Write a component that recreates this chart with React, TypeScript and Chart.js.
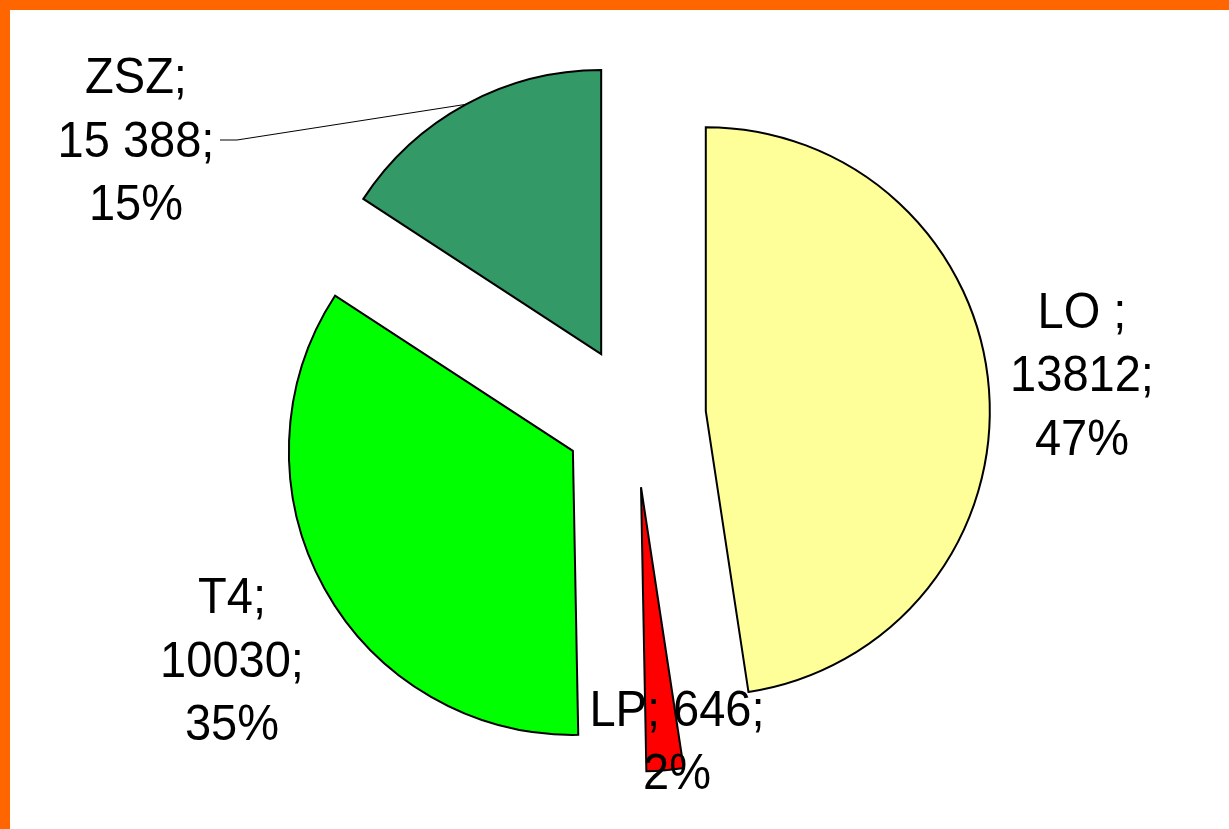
import React, { useEffect, useRef } from 'react';
import { Chart, ArcElement, registerables } from 'chart.js';

Chart.register(...registerables);

// ---- data ----
const categories = ['LO ', 'LP', 'T4', 'ZSZ'];
const valueLabels = ['13812', '646', '10030', '15 388'];
const percentLabels = ['47%', '2%', '35%', '15%'];
// slice shares (angles)
const shares = [47.6, 2.1, 34.5, 15.8];
const colors = ['#FFFF99', '#FF0000', '#00FF00', '#339966'];

// ---- layout / style ----
const W = 1229;
const H = 829;
const RADIUS = 284;
const EXPLODE = 71;
const FONT = '50px "Liberation Sans", Arial, sans-serif';
const TEXT_SCALE_X = 0.94;
const LINE_H = 63.5;
// label anchors relative to pie centre: x centre, first baseline
const labelLayout = [
  { dx: 447, dy: -88.8, join: false },
  { dx: 42, dy: 309.2, join: true },
  { dx: -403, dy: 196.5, join: false },
  { dx: -499, dy: -323.5, join: false },
];
const leaderStart = [
  [-415, -276.5],
  [-398, -276.5],
];
const LEADER_INDEX = 3;

const explodePlugin = {
  id: 'explodeSlices',
  afterDatasetUpdate(chart: any, args: any) {
    const meta = chart.getDatasetMeta(args.index);
    meta.data.forEach((el: any) => {
      if (el.__exploded) return;
      el.__exploded = true;
      el.draw = function (ctx: CanvasRenderingContext2D, area: any) {
        const mid = (this.startAngle + this.endAngle) / 2;
        ctx.save();
        ctx.translate(Math.cos(mid) * EXPLODE, Math.sin(mid) * EXPLODE);
        ArcElement.prototype.draw.call(this, ctx, area);
        ctx.restore();
      };
    });
  },
};

const labelPlugin = {
  id: 'sliceLabels',
  afterDatasetsDraw(chart: any) {
    const ctx: CanvasRenderingContext2D = chart.ctx;
    const meta = chart.getDatasetMeta(0);
    if (!meta.data.length) return;
    const cx = meta.data[0].x;
    const cy = meta.data[0].y;
    ctx.save();
    // leader line
    const el: any = meta.data[LEADER_INDEX];
    const mid = (el.startAngle + el.endAngle) / 2;
    const ex = cx + Math.cos(mid) * (EXPLODE + el.outerRadius);
    const ey = cy + Math.sin(mid) * (EXPLODE + el.outerRadius);
    ctx.strokeStyle = '#000';
    ctx.lineWidth = 1;
    ctx.beginPath();
    ctx.moveTo(cx + leaderStart[0][0], cy + leaderStart[0][1]);
    ctx.lineTo(cx + leaderStart[1][0], cy + leaderStart[1][1]);
    ctx.lineTo(ex, ey);
    ctx.stroke();

    ctx.fillStyle = '#000';
    ctx.font = FONT;
    ctx.textAlign = 'center';
    ctx.textBaseline = 'alphabetic';
    categories.forEach((cat, i) => {
      const lay = labelLayout[i];
      let lines = [`${cat};`, `${valueLabels[i]};`, percentLabels[i]];
      if (lay.join) lines = [`${lines[0]} ${lines[1]}`, lines[2]];
      lines.forEach((t, j) => {
        ctx.save();
        ctx.translate(cx + lay.dx, cy + lay.dy + j * LINE_H);
        ctx.scale(TEXT_SCALE_X, 1);
        ctx.fillText(t, 0, 0);
        ctx.restore();
      });
    });
    ctx.restore();
  },
};

export default function App() {
  const ref = useRef<HTMLCanvasElement | null>(null);
  useEffect(() => {
    if (!ref.current) return;
    const chart = new Chart(ref.current, {
      type: 'pie',
      data: {
        labels: categories,
        datasets: [
          {
            data: shares,
            backgroundColor: colors,
            borderColor: '#000000',
            borderWidth: 2,
            borderJoinStyle: 'miter',
          } as any,
        ],
      },
      options: {
        animation: false,
        responsive: false,
        radius: RADIUS,
        events: [],
        layout: { padding: { left: 41, top: 4, right: 0, bottom: 0 } },
        plugins: {
          legend: { display: false },
          tooltip: { enabled: false },
        },
      } as any,
      plugins: [explodePlugin, labelPlugin],
    });
    return () => chart.destroy();
  }, []);

  return (
    <div
      style={{
        position: 'fixed',
        left: 0,
        top: 0,
        width: W,
        height: H,
        background: '#FFFFFF',
        overflow: 'hidden',
      }}
    >
      <div
        style={{
          position: 'absolute',
          left: 0,
          top: 0,
          width: W,
          height: H,
          boxSizing: 'border-box',
          borderTop: '10px solid #FF6600',
          borderLeft: '10px solid #FF6600',
        }}
      />
      <canvas
        ref={ref}
        width={W}
        height={H}
        style={{ position: 'absolute', left: 0, top: 0, display: 'block' }}
      />
    </div>
  );
}
